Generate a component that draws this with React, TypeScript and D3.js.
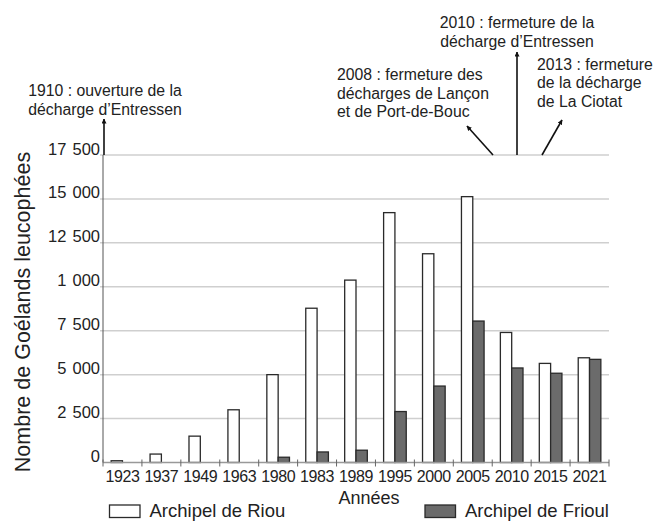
import React, { useEffect, useRef } from 'react'
import * as d3 from 'd3'

const years = ['1923', '1937', '1949', '1963', '1980', '1983', '1989', '1995', '2000', '2005', '2010', '2015', '2021']
const riou = [100, 480, 1500, 3000, 5000, 8780, 10380, 14220, 11880, 15130, 7400, 5640, 5960]
const frioul = [0, 0, 0, 0, 300, 600, 700, 2900, 4350, 8050, 5380, 5080, 5870]
const yTicks = [0, 2500, 5000, 7500, 10000, 12500, 15000, 17500]
const yTickLabels = ['0', '2 500', '5 000', '7 500', '1 000', '12 500', '15 000', '17 500']
const series = ['Archipel de Riou', 'Archipel de Frioul']

const notes = [
  { lines: ['1910 : ouverture de la', 'décharge d’Entressen'], anchor: 'middle', tx: 105, ty: 96, from: [104, 155], to: [104, 119] },
  { lines: ['2010 : fermeture de la', 'décharge d’Entressen'], anchor: 'middle', tx: 517, ty: 28, from: [517, 155], to: [517, 52] },
  { lines: ['2008 : fermeture des', 'décharges de Lançon', 'et de Port-de-Bouc'], anchor: 'start', tx: 337, ty: 80, from: [493, 155], to: [467, 126] },
  { lines: ['2013 : fermeture', 'de la décharge', 'de La Ciotat'], anchor: 'start', tx: 537, ty: 69.5, from: [542, 155], to: [562, 120] }
]

const font = 'Liberation Sans, Arial, Helvetica, sans-serif'

const Chart = () => {
  const ref = useRef(null)
  const width = 667
  const height = 521
  const margin = { top: 155, right: 58, bottom: 58.5, left: 103 }

  useEffect(() => {
    const svg = d3.select(ref.current)
    svg.selectAll('*').remove()

    const x = d3.scaleBand()
      .domain(years)
      .range([margin.left, width - margin.right])
      .padding(0)

    const xs = d3.scaleBand()
      .domain(series)
      .range([0, x.bandwidth()])
      .paddingInner(0)
      .paddingOuter(0.72)

    const y = d3.scaleLinear()
      .domain([0, 17500])
      .range([height - margin.bottom, margin.top])

    svg.append('defs').append('marker')
      .attr('id', 'arrow')
      .attr('viewBox', '0 0 10 10')
      .attr('refX', 9)
      .attr('refY', 5)
      .attr('markerWidth', 5)
      .attr('markerHeight', 5)
      .attr('markerUnits', 'userSpaceOnUse')
      .attr('orient', 'auto')
      .append('path')
      .attr('d', 'M0,0L10,5L0,10Z')
      .attr('fill', '#111')

    // grid lines
    svg.append('g')
      .selectAll('line')
      .data(yTicks.slice(1))
      .join('line')
      .attr('x1', margin.left - 3)
      .attr('x2', width - margin.right)
      .attr('y1', d => y(d))
      .attr('y2', d => y(d))
      .attr('stroke', '#cfcfcf')
      .attr('stroke-width', 1.5)

    // y axis line
    svg.append('line')
      .attr('x1', margin.left).attr('x2', margin.left)
      .attr('y1', y(17500)).attr('y2', y(0))
      .attr('stroke', '#555')
      .attr('stroke-width', 1)

    // y tick labels
    svg.append('g')
      .selectAll('text')
      .data(yTicks)
      .join('text')
      .attr('x', margin.left - 3)
      .attr('y', d => y(d) - 0.5)
      .attr('text-anchor', 'end')
      .attr('font-family', font)
      .attr('font-size', 16.5)
      .attr('word-spacing', 1.5)
      .attr('fill', '#222')
      .text((d, i) => yTickLabels[i])

    // bars
    const groups = svg.append('g')
      .selectAll('g')
      .data(years)
      .join('g')
      .attr('transform', d => `translate(${x(d)},0)`)

    groups.selectAll('rect')
      .data((d, i) => [
        { s: series[0], v: riou[i] },
        { s: series[1], v: frioul[i] }
      ].filter(e => e.v > 0))
      .join('rect')
      .attr('x', d => xs(d.s))
      .attr('width', xs.bandwidth())
      .attr('y', d => y(d.v))
      .attr('height', d => y(0) - y(d.v))
      .attr('fill', d => d.s === series[0] ? '#fff' : '#6b6b6b')
      .attr('stroke', '#2a2a2a')
      .attr('stroke-width', 1.3)

    // x axis
    const xAxis = svg.append('g')
    xAxis.append('line')
      .attr('x1', margin.left).attr('x2', width - margin.right)
      .attr('y1', y(0)).attr('y2', y(0))
      .attr('stroke', '#999')
      .attr('stroke-width', 1.5)
    xAxis.selectAll('.tk')
      .data([...years.map(d => x(d)), width - margin.right])
      .join('line')
      .attr('class', 'tk')
      .attr('x1', d => d).attr('x2', d => d)
      .attr('y1', y(0) - 3).attr('y2', y(0) + 4)
      .attr('stroke', '#666')
      .attr('stroke-width', 1)
    xAxis.selectAll('text')
      .data(years)
      .join('text')
      .attr('x', d => x(d) + x.bandwidth() / 2)
      .attr('y', 482)
      .attr('text-anchor', 'middle')
      .attr('font-family', font)
      .attr('font-size', 16)
      .attr('letter-spacing', -0.4)
      .attr('fill', '#222')
      .text(d => d)

    svg.append('text')
      .attr('x', 369)
      .attr('y', 504)
      .attr('text-anchor', 'middle')
      .attr('font-family', font)
      .attr('font-size', 18)
      .attr('fill', '#222')
      .text('Années')

    svg.append('text')
      .attr('transform', `translate(30,${312}) rotate(-90)`)
      .attr('text-anchor', 'middle')
      .attr('font-family', font)
      .attr('font-size', 21.5)
      .attr('fill', '#222')
      .text('Nombre de Goélands leucophées')

    // legend
    const legend = svg.append('g')
    const legendX = [109.5, 425]
    series.forEach((s, i) => {
      legend.append('rect')
        .attr('x', legendX[i]).attr('y', 505)
        .attr('width', 30.5).attr('height', 12.5)
        .attr('fill', i === 0 ? '#fff' : '#6b6b6b')
        .attr('stroke', '#2a2a2a')
        .attr('stroke-width', 1.3)
      legend.append('text')
        .attr('x', legendX[i] + 40)
        .attr('y', 517)
        .attr('font-family', font)
        .attr('font-size', 18.5)
        .attr('fill', '#222')
        .text(s)
    })

    // annotations
    const ann = svg.append('g')
    notes.forEach(n => {
      ann.append('line')
        .attr('x1', n.from[0]).attr('y1', n.from[1])
        .attr('x2', n.to[0]).attr('y2', n.to[1])
        .attr('stroke', '#111')
        .attr('stroke-width', 1.6)
        .attr('marker-end', 'url(#arrow)')
      const t = ann.append('text')
        .attr('text-anchor', n.anchor)
        .attr('font-family', font)
        .attr('font-size', 15.8)
        .attr('fill', '#222')
      n.lines.forEach((l, i) => {
        t.append('tspan')
          .attr('x', n.tx)
          .attr('y', n.ty + i * 18.6)
          .text(l)
      })
    })
  }, [])

  return (
    <svg width={width} height={height} ref={ref} style={{ position: 'absolute', left: 0, top: 0, background: '#fff' }} />
  )
}

export default function App () {
  return <Chart />
}
